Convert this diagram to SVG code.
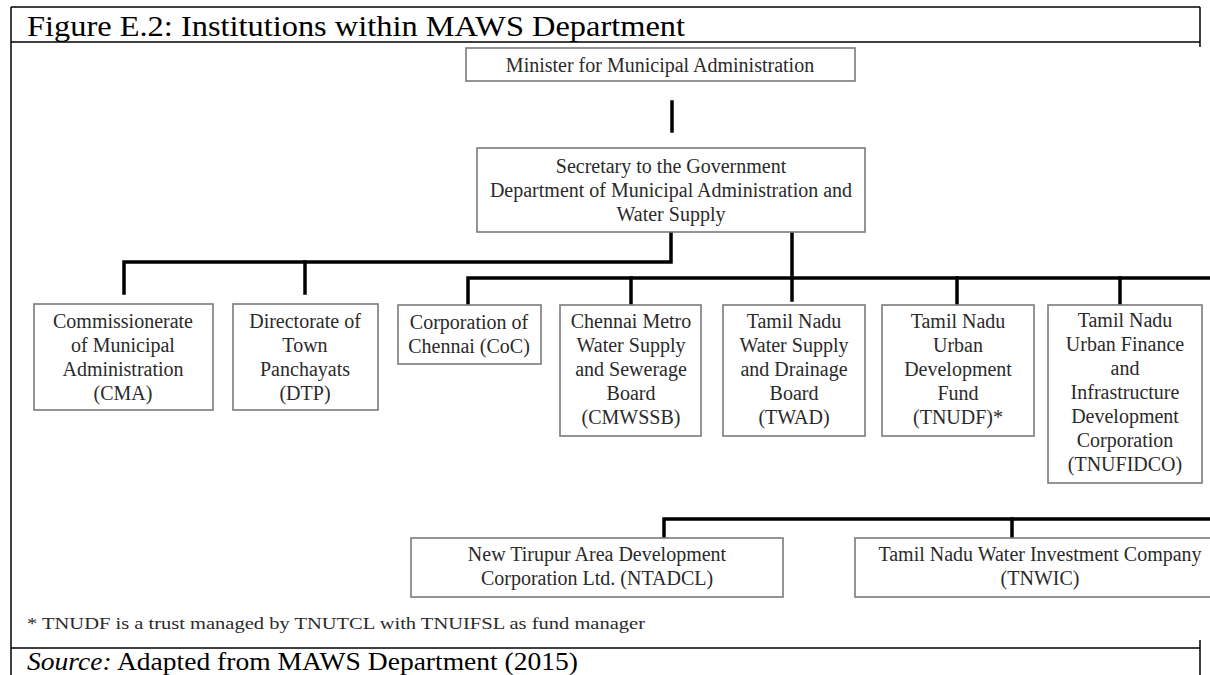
<svg xmlns="http://www.w3.org/2000/svg" width="1210" height="675" viewBox="0 0 1210 675">
<style>
.frame{stroke:#000;stroke-width:1.5;fill:none}
.box{fill:#fff;stroke:#7a7a7a;stroke-width:1.6}
.conn{stroke:#000;stroke-width:3.5;fill:none;stroke-linecap:square}
.t{font-family:"Liberation Serif","Times New Roman",serif;font-size:20px;fill:#2a2a2a;text-anchor:middle}
.title{font-family:"Liberation Serif","Times New Roman",serif;font-size:30px;fill:#000}
.src{font-family:"Liberation Serif","Times New Roman",serif;font-size:26px;fill:#000}
.note{font-family:"Liberation Serif","Times New Roman",serif;font-size:17.5px;fill:#2a2a2a}
</style>
<rect width="1210" height="675" fill="#fff"/>
<g id="frame">
<line class="frame" x1="11" y1="7" x2="1200" y2="7"/>
<line class="frame" x1="11" y1="7" x2="11" y2="675"/>
<line class="frame" x1="11" y1="42" x2="1200" y2="42"/>
<line class="frame" x1="1200" y1="7" x2="1200" y2="47"/>
<line class="frame" x1="11" y1="648" x2="1200" y2="648"/>
<line class="frame" x1="1200" y1="640" x2="1200" y2="675"/>
<text class="title" x="27" y="36" textLength="658" lengthAdjust="spacingAndGlyphs">Figure E.2: Institutions within MAWS Department</text>
<text class="src" x="27" y="670" textLength="551" lengthAdjust="spacingAndGlyphs"><tspan font-style="italic">Source:</tspan> Adapted from MAWS Department (2015)</text>
</g>
<g id="connectors">
<line class="conn" x1="672" y1="102" x2="672" y2="131"/>
<polyline class="conn" points="671,232 671,262 124,262 124,293"/>
<line class="conn" x1="305" y1="262" x2="305" y2="293"/>
<line class="conn" x1="792" y1="232" x2="792" y2="300"/>
<polyline class="conn" points="468,303 468,278 1212,278"/>
<line class="conn" x1="631" y1="278" x2="631" y2="303"/>
<line class="conn" x1="957" y1="278" x2="957" y2="303"/>
<line class="conn" x1="1120" y1="278" x2="1120" y2="303"/>
<polyline class="conn" points="664,538 664,519 1212,519"/>
<line class="conn" x1="1012" y1="519" x2="1012" y2="539"/>
</g>
<g id="minister">
<rect class="box" x="466" y="48" width="389" height="33"/>
<text class="t" x="660" y="72">Minister for Municipal Administration</text>
</g>
<g id="secretary">
<rect class="box" x="477" y="148" width="388" height="84"/>
<text class="t" x="671" y="173">Secretary to the Government</text>
<text class="t" x="671" y="197">Department of Municipal Administration and</text>
<text class="t" x="671" y="221">Water Supply</text>
</g>
<g id="cma">
<rect class="box" x="34" y="304" width="179" height="106"/>
<text class="t" x="123" y="328">Commissionerate</text>
<text class="t" x="123" y="352">of Municipal</text>
<text class="t" x="123" y="376">Administration</text>
<text class="t" x="123" y="400">(CMA)</text>
</g>
<g id="dtp">
<rect class="box" x="233" y="304" width="145" height="106"/>
<text class="t" x="305" y="328">Directorate of</text>
<text class="t" x="305" y="352">Town</text>
<text class="t" x="305" y="376">Panchayats</text>
<text class="t" x="305" y="400">(DTP)</text>
</g>
<g id="coc">
<rect class="box" x="398" y="305" width="143" height="59"/>
<text class="t" x="469" y="329">Corporation of</text>
<text class="t" x="469" y="353">Chennai (CoC)</text>
</g>
<g id="cmwssb">
<rect class="box" x="560" y="305" width="141" height="131"/>
<text class="t" x="631" y="328">Chennai Metro</text>
<text class="t" x="631" y="352">Water Supply</text>
<text class="t" x="631" y="376">and Sewerage</text>
<text class="t" x="631" y="400">Board</text>
<text class="t" x="631" y="424">(CMWSSB)</text>
</g>
<g id="twad">
<rect class="box" x="723" y="305" width="142" height="131"/>
<text class="t" x="794" y="328">Tamil Nadu</text>
<text class="t" x="794" y="352">Water Supply</text>
<text class="t" x="794" y="376">and Drainage</text>
<text class="t" x="794" y="400">Board</text>
<text class="t" x="794" y="424">(TWAD)</text>
</g>
<g id="tnudf">
<rect class="box" x="882" y="305" width="152" height="131"/>
<text class="t" x="958" y="328">Tamil Nadu</text>
<text class="t" x="958" y="352">Urban</text>
<text class="t" x="958" y="376">Development</text>
<text class="t" x="958" y="400">Fund</text>
<text class="t" x="958" y="424">(TNUDF)*</text>
</g>
<g id="tnufidco">
<rect class="box" x="1048" y="305" width="154" height="178"/>
<text class="t" x="1125" y="327">Tamil Nadu</text>
<text class="t" x="1125" y="351">Urban Finance</text>
<text class="t" x="1125" y="375">and</text>
<text class="t" x="1125" y="399">Infrastructure</text>
<text class="t" x="1125" y="423">Development</text>
<text class="t" x="1125" y="447">Corporation</text>
<text class="t" x="1125" y="471">(TNUFIDCO)</text>
</g>
<g id="ntadcl">
<rect class="box" x="411" y="538" width="372" height="59"/>
<text class="t" x="597" y="561">New Tirupur Area Development</text>
<text class="t" x="597" y="585">Corporation Ltd. (NTADCL)</text>
</g>
<g id="tnwic">
<rect class="box" x="855" y="538" width="360" height="59"/>
<text class="t" x="1040" y="561">Tamil Nadu Water Investment Company</text>
<text class="t" x="1040" y="585">(TNWIC)</text>
</g>
<text class="note" x="27" y="629" textLength="618" lengthAdjust="spacingAndGlyphs">* TNUDF is a trust managed by TNUTCL with TNUIFSL as fund manager</text>
</svg>
